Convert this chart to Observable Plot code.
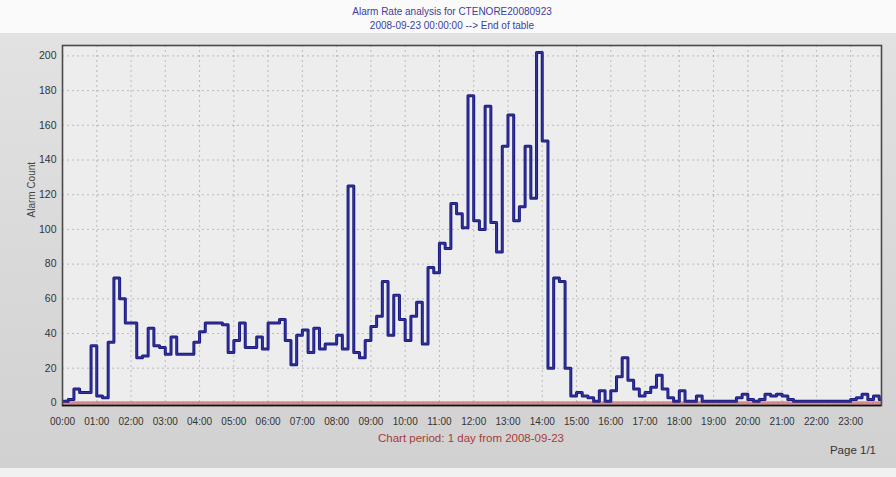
<!DOCTYPE html>
<html>
<head>
<meta charset="utf-8">
<script src="https://cdn.jsdelivr.net/npm/d3@7"></script>
<script src="https://cdn.jsdelivr.net/npm/@observablehq/plot@0.6"></script>
<style>
  html, body { margin: 0; padding: 0; }
  body { width: 896px; height: 477px; overflow: hidden; background: #f1f1f1; font-family: "Liberation Sans", Arial, sans-serif; }
  #title { height: 33px; box-sizing: border-box; padding-top: 5px; background: #fafafa; text-align: center; color: #40409a; font-size: 10px; line-height: 14px; padding-left: 8px; }
  #panel { position: relative; height: 435px; background: linear-gradient(#e2e2e2, #d1d1d1); }
  #panel svg { position: absolute; left: 0; top: 0; overflow: visible; background: transparent; }
  #period { position: absolute; left: 0; width: 942px; top: 399px; text-align: center; color: #a83a3a; font-size: 11.5px; }
  #page { position: absolute; right: 20px; top: 411px; color: #333; font-size: 11.5px; }
</style>
</head>
<body>
<div id="title"></div>
<div id="panel"></div>
<script>
// ---- data ----
const titleLines = ["Alarm Rate analysis for CTENORE20080923", "2008-09-23 00:00:00 --> End of table"];
const yLabel = "Alarm Count";
const periodText = "Chart period: 1 day from 2008-09-23";
const pageText = "Page 1/1";
const binMinutes = 10;
// alarm count per 10-minute bin, 00:00 .. 23:50
const alarmCounts = [
  1, 2, 8, 6, 6, 33, 4, 3, 35, 72,
  60, 46, 46, 26, 27, 43, 33, 32, 28, 38,
  28, 28, 28, 35, 41, 46, 46, 46, 45, 29,
  36, 46, 32, 32, 38, 31, 46, 46, 48, 36,
  22, 39, 42, 29, 43, 31, 34, 34, 39, 31,
  125, 29, 26, 36, 44, 50, 70, 39, 62, 48,
  36, 50, 58, 34, 78, 75, 92, 89, 115, 109,
  101, 177, 105, 100, 171, 104, 87, 148, 166, 105,
  113, 148, 118, 202, 151, 20, 72, 70, 20, 4,
  6, 4, 3, 1, 7, 1, 7, 15, 26, 13,
  8, 4, 6, 9, 16, 8, 3, 1, 7, 1,
  1, 4, 1, 1, 1, 1, 1, 1, 3, 5,
  2, 1, 2, 5, 4, 5, 4, 2, 1, 1,
  1, 1, 1, 1, 1, 1, 1, 1, 2, 3,
  5, 2, 4, 2
];
const hourTicks = [0,1,2,3,4,5,6,7,8,9,10,11,12,13,14,15,16,17,18,19,20,21,22,23];
const hourLabels = ["00:00","01:00","02:00","03:00","04:00","05:00","06:00","07:00","08:00","09:00","10:00","11:00",
                    "12:00","13:00","14:00","15:00","16:00","17:00","18:00","19:00","20:00","21:00","22:00","23:00"];
const yTicks = [0,20,40,60,80,100,120,140,160,180,200];

// ---- build ----
document.getElementById("title").innerHTML = titleLines.map(s => `<div>${s.replace(/>/g,"&gt;")}</div>`).join("");

const series = alarmCounts.map((v, i) => ({t: i * binMinutes / 60, v}));
series.push({t: alarmCounts.length * binMinutes / 60, v: alarmCounts[alarmCounts.length - 1]});

const chart = Plot.plot({
  width: 896,
  height: 435,
  marginLeft: 62,
  marginRight: 15,
  marginTop: 12,
  marginBottom: 63,
  style: {fontFamily: "'Liberation Sans', Arial, sans-serif", background: "transparent", overflow: "visible"},
  x: {domain: [0, 23.9], ticks: hourTicks, tickFormat: d => hourLabels[d], label: null},
  y: {domain: [-1.5, 206], ticks: yTicks, label: null},
  marks: [
    Plot.frame({fill: "#ededed", stroke: "none"}),
    Plot.gridX(hourTicks, {stroke: "#9a9a9a", strokeOpacity: 0.6, strokeDasharray: "2,3"}),
    Plot.gridY(yTicks, {stroke: "#9a9a9a", strokeOpacity: 0.6, strokeDasharray: "2,3"}),
    Plot.ruleY([0], {stroke: "#d36a6a", strokeWidth: 3.5, strokeOpacity: 0.75}),
    Plot.line(series, {x: "t", y: "v", curve: "step-after", stroke: "#1c1c84", strokeWidth: 3, clip: true}),
    Plot.line(series, {x: "t", y: "v", curve: "step-after", stroke: "#5a5ac0", strokeWidth: 0.7, strokeOpacity: 0.6, clip: true}),
    Plot.axisX(hourTicks, {tickSize: 0, tickPadding: 12, fontSize: 10, fill: "#333", tickFormat: d => hourLabels[d], label: null}),
    Plot.axisY(yTicks, {tickSize: 0, tickPadding: 6, fontSize: 10.5, fill: "#333", label: null}),
    Plot.text([yLabel], {frameAnchor: "left", dx: -31, dy: -8, rotate: -90, fontSize: 10, fill: "#444"}),
    Plot.frame({stroke: "#4a4a4a", strokeWidth: 1.6}),
    Plot.ruleY([-1.5], {stroke: "#111", strokeWidth: 1.6})
  ]
});
const panel = document.getElementById("panel");
panel.appendChild(chart);
const p = document.createElement("div"); p.id = "period"; p.textContent = periodText; panel.appendChild(p);
const g = document.createElement("div"); g.id = "page"; g.textContent = pageText; panel.appendChild(g);
</script>
</body>
</html>
